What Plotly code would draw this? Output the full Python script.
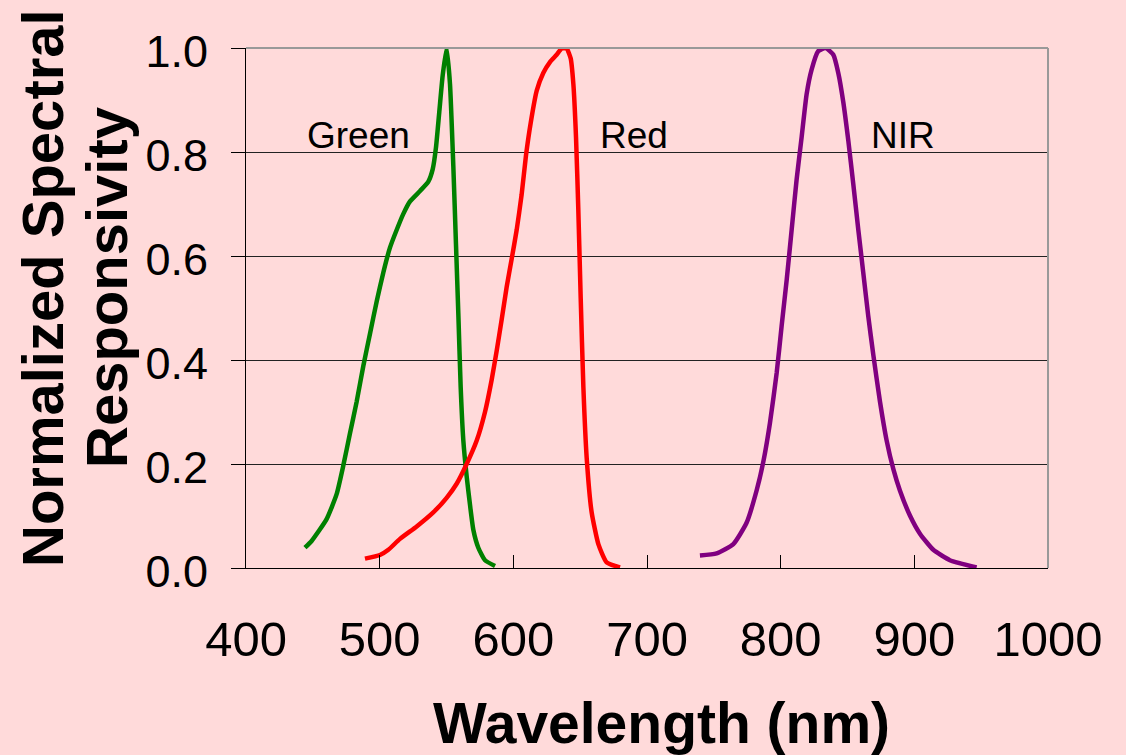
import plotly.graph_objects as go

green_nm = [444.1, 449.1, 460.3, 467.8, 472.8, 477.8, 482.8, 487.8, 492.8, 497.8, 502.7, 507.7, 512.7, 517.7, 522.7, 530.2, 536.4, 539.7, 542.1, 544.6, 547.1, 550.1, 552.6, 555.1, 557.1, 558.9, 560.6, 562.6, 565.1, 567.6, 570.1, 573.8, 578.8, 586.3]
green_val = [0.039, 0.052, 0.094, 0.142, 0.197, 0.259, 0.320, 0.389, 0.451, 0.513, 0.568, 0.616, 0.650, 0.681, 0.705, 0.725, 0.743, 0.767, 0.808, 0.877, 0.946, 1.000, 0.931, 0.773, 0.622, 0.485, 0.348, 0.245, 0.176, 0.121, 0.073, 0.039, 0.015, 0.004]

red_nm = [489.0, 500.2, 506.5, 515.2, 527.7, 540.1, 550.1, 557.6, 565.1, 572.6, 578.8, 583.8, 587.5, 591.3, 595.0, 598.8, 602.5, 606.2, 609.5, 613.0, 617.5, 622.4, 627.4, 632.4, 636.2, 639.9, 642.9, 644.9, 646.9, 648.6, 650.4, 652.4, 654.9, 658.6, 663.6, 669.8, 679.8]
red_val = [0.018, 0.025, 0.035, 0.056, 0.080, 0.107, 0.135, 0.162, 0.200, 0.245, 0.300, 0.362, 0.417, 0.478, 0.540, 0.595, 0.650, 0.718, 0.794, 0.856, 0.918, 0.952, 0.973, 0.987, 0.999, 0.999, 0.980, 0.931, 0.828, 0.690, 0.519, 0.348, 0.211, 0.107, 0.046, 0.011, 0.001]

nir_nm = [739.6, 752.1, 764.6, 774.5, 782.0, 787.0, 792.0, 797.0, 800.7, 804.5, 808.2, 811.9, 815.7, 819.4, 823.2, 828.1, 833.6, 839.4, 843.1, 846.8, 850.6, 854.3, 858.1, 861.8, 865.5, 869.3, 874.3, 879.3, 884.3, 889.2, 896.7, 904.2, 914.2, 926.6, 946.6]
nir_val = [0.024, 0.028, 0.046, 0.087, 0.149, 0.204, 0.279, 0.375, 0.465, 0.554, 0.650, 0.746, 0.829, 0.911, 0.959, 0.994, 1.000, 0.987, 0.952, 0.897, 0.822, 0.739, 0.650, 0.568, 0.485, 0.410, 0.320, 0.245, 0.190, 0.149, 0.101, 0.066, 0.035, 0.015, 0.001]

band_labels = ["Green", "Red", "NIR"]
label_nm = [444.1, 663.3, 866.1]
label_val = [0.832, 0.832, 0.832]

x_ticks = [400, 500, 600, 700, 800, 900, 1000]
y_ticks = [0.0, 0.2, 0.4, 0.6, 0.8, 1.0]

BG = "#FFDADA"
FONT = "Liberation Sans, Arial, sans-serif"

fig = go.Figure()
for xs, ys, col, name in [(green_nm, green_val, "#008000", "Green"),
                          (red_nm, red_val, "#FF0000", "Red"),
                          (nir_nm, nir_val, "#800080", "NIR")]:
    fig.add_trace(go.Scatter(x=xs, y=ys, mode="lines", name=name,
                             line=dict(color=col, width=4.5, shape="spline", smoothing=0.5)))

for t, xv, yv in zip(band_labels, label_nm, label_val):
    fig.add_annotation(x=xv, y=yv, xref="x", yref="y", text=t, showarrow=False,
                       xanchor="left", yanchor="middle",
                       font=dict(family=FONT, size=37, color="black"))

# axis titles
fig.add_annotation(x=-0.2531, y=0.5385, xref="paper", yref="paper", text="<b>Normalized Spectral</b>",
                   showarrow=False, textangle=-90, xanchor="center", yanchor="middle",
                   font=dict(family=FONT, size=58, color="black"))
fig.add_annotation(x=-0.1733, y=0.5385, xref="paper", yref="paper", text="<b>Responsivity</b>",
                   showarrow=False, textangle=-90, xanchor="center", yanchor="middle",
                   font=dict(family=FONT, size=58, color="black"))
fig.add_annotation(x=0.518, y=-0.298, xref="paper", yref="paper", text="<b>Wavelength (nm)</b>",
                   showarrow=False, xanchor="center", yanchor="middle",
                   font=dict(family=FONT, size=57, color="black"))

# gray top/right border
fig.add_shape(type="line", xref="paper", yref="paper", x0=0, x1=1, y0=1, y1=1,
              line=dict(color="#999999", width=2))
fig.add_shape(type="line", xref="paper", yref="paper", x0=1, x1=1, y0=0, y1=1,
              line=dict(color="#999999", width=2))

fig.update_layout(
    width=1126, height=755,
    margin=dict(l=246, r=78, t=48, b=187),
    paper_bgcolor=BG, plot_bgcolor=BG,
    showlegend=False,
    font=dict(family=FONT, color="black"),
)
fig.update_xaxes(range=[400, 1000], tickvals=x_ticks, ticks="inside", ticklen=13,
                 tickcolor="black", tickwidth=1, showline=True, linecolor="black", linewidth=1,
                 showgrid=False, zeroline=False, tickfont=dict(family=FONT, size=49, color="black"),
                 ticklabelstandoff=28)
fig.update_yaxes(range=[0, 1], tickvals=y_ticks, tickformat=".1f", ticks="outside", ticklen=14,
                 tickcolor="black", tickwidth=1, showline=True, linecolor="black", linewidth=1,
                 showgrid=True, gridcolor="#222222", gridwidth=1, zeroline=False,
                 tickfont=dict(family=FONT, size=45, color="black"), ticklabelshift=3,
                 ticklabelstandoff=14)

fig.write_html("out.html", config={"displayModeBar": False},
               post_script="document.body.style.margin='0';document.body.style.background='" + BG + "';")
